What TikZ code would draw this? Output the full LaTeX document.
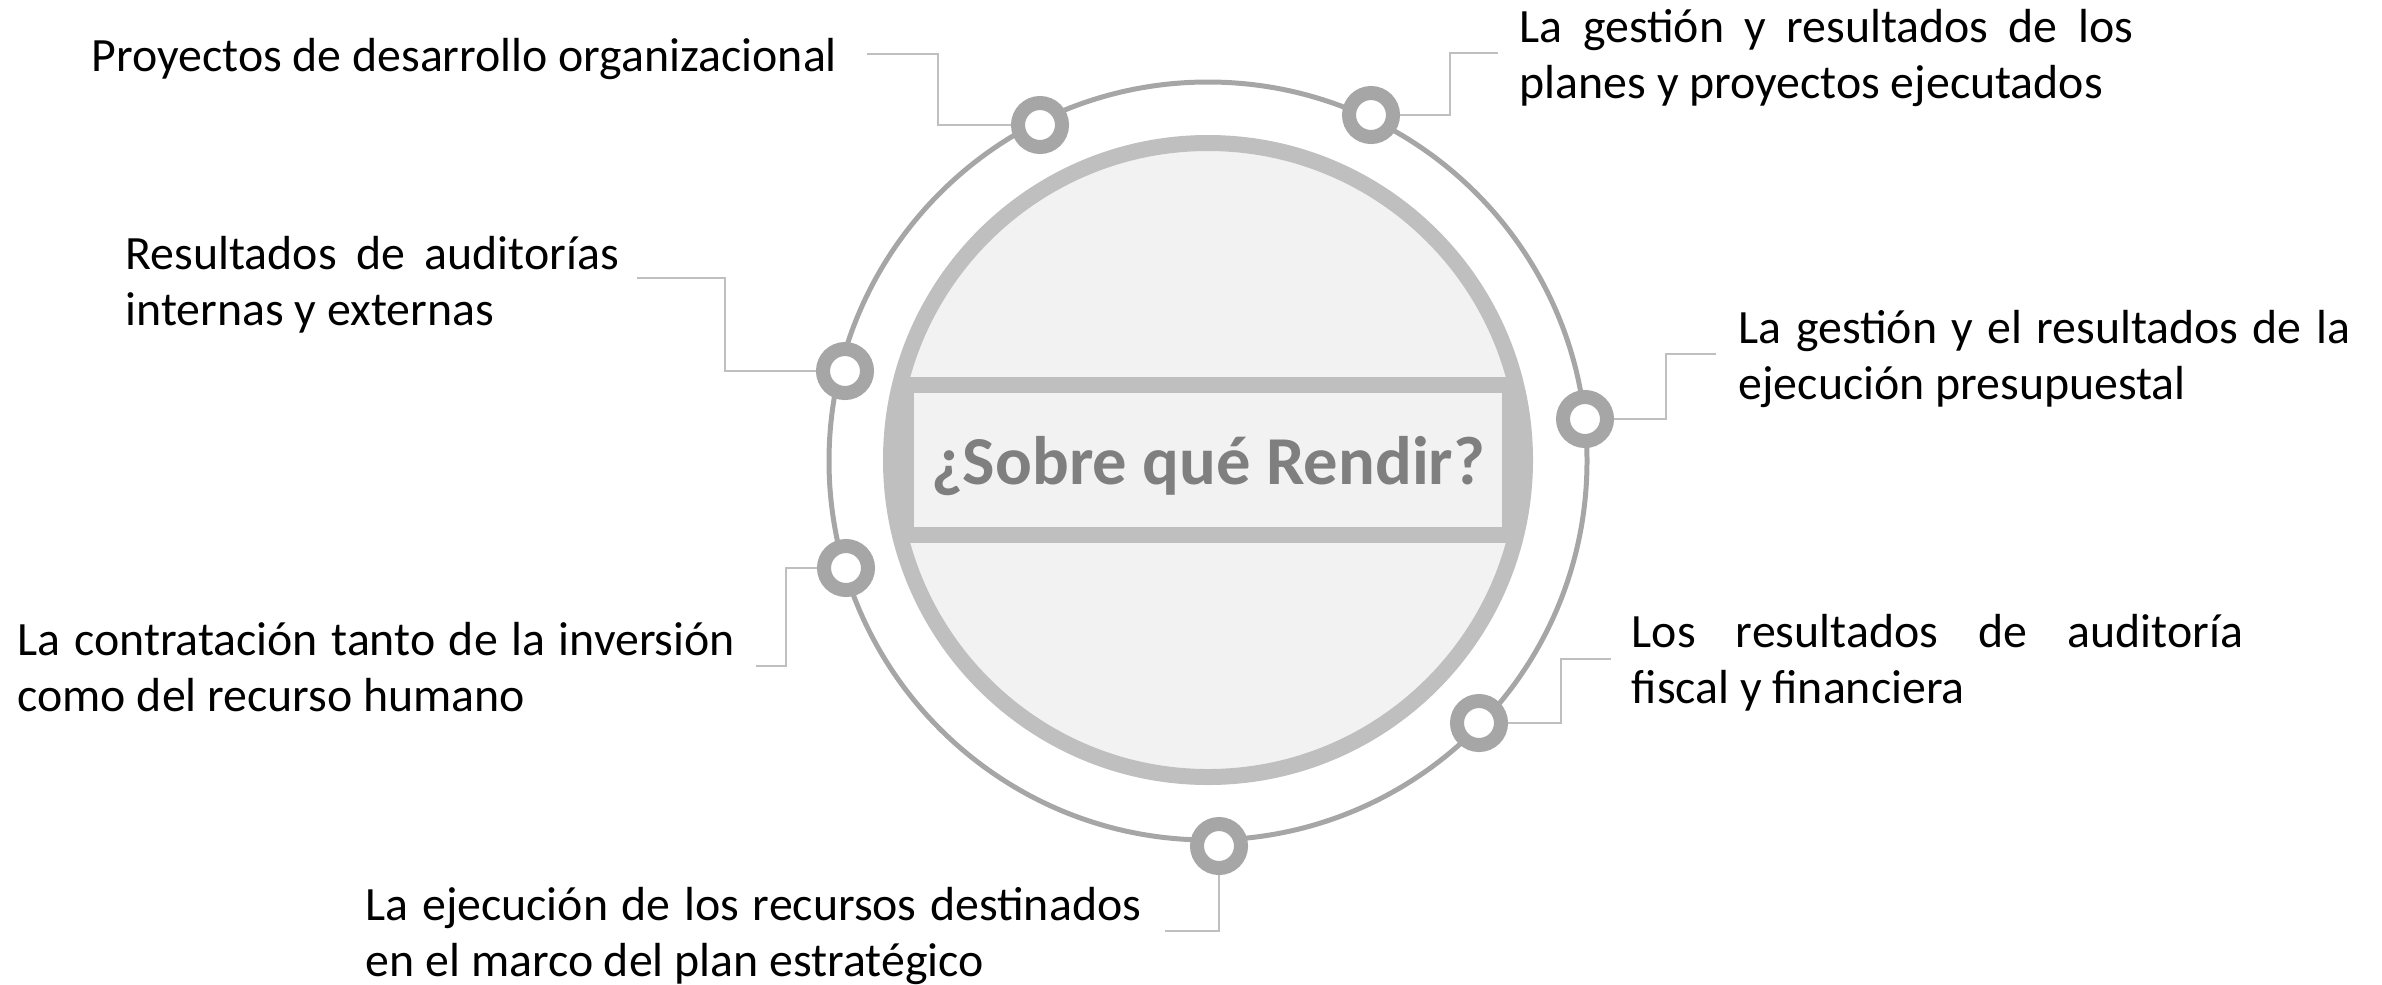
\documentclass[tikz,border=0pt]{standalone}
\usepackage{fontspec}
\setmainfont{Carlito}
\usepackage{tikz}

\definecolor{anillo}{HTML}{A6A6A6}
\definecolor{borde}{HTML}{BFBFBF}
\definecolor{relleno}{HTML}{F2F2F2}
\definecolor{grisletra}{HTML}{7F7F7F}
\newcommand{\justa}[2]{\makebox[#1][s]{#2}}

\begin{document}
\begin{tikzpicture}[x=0.01cm,y=-0.01cm,
    punto/.style={circle,draw=anillo,fill=white,line width=3.98pt,minimum size=0.44cm,inner sep=0pt},
    conec/.style={draw=borde,line width=0.6pt},
    texto/.style={anchor=north west,inner sep=0pt,align=left,font=\fontsize{13.6}{16}\selectfont}]
          \useasboundingbox (0,0) rectangle (2382,984);
          % circulos
          \draw[anillo,line width=1.42pt] (1208,461) circle [radius=379];
          \draw[borde,fill=relleno,line width=4.55pt] (1208,460) circle [radius=317];
          \node[draw=borde,fill=relleno,line width=4.55pt,minimum width=6.04cm,minimum height=1.5cm,inner sep=0pt] (banda) at (1208,460) {};
          \node[text=grisletra,font=\fontsize{19.5}{22}\selectfont\bfseries] (titulo) at (1208,466) {¿Sobre qué Rendir?};
          % puntos
          \node[punto] (p1) at (1040,125) {};
          \node[punto] (p2) at (1371,115) {};
          \node[punto] (p3) at (845,371) {};
          \node[punto] (p4) at (1585,419) {};
          \node[punto] (p5) at (846,568) {};
          \node[punto] (p6) at (1479,723) {};
          \node[punto] (p7) at (1219,846) {};
          % textos
          \node[texto] (t1) at (91,31) {\strut Proyectos de desarrollo organizacional};
          \node[texto] (t2) at (1519,2) {\strut\justa{6.13cm}{La gestión y resultados de los}\\planes y proyectos ejecutados};
          \node[texto] (t3) at (125,229) {\strut\justa{4.93cm}{Resultados de auditorías}\\internas y externas};
          \node[texto] (t4) at (1738,303) {\strut\justa{6.11cm}{La gestión y el resultados de la}\\ejecución presupuestal};
          \node[texto] (t5) at (17,615) {\strut\justa{7.17cm}{La contratación tanto de la inversión}\\como del recurso humano};
          \node[texto] (t6) at (1631,607) {\strut\justa{6.11cm}{Los resultados de auditoría}\\fiscal y financiera};
          \node[texto] (t7) at (365,880) {\strut\justa{7.75cm}{La ejecución de los recursos destinados}\\en el marco del plan estratégico};
          % conectores
          \coordinate (c1) at (867,54);
          \coordinate (c2) at (1498,53);
          \coordinate (c3) at (637,278);
          \coordinate (c4) at (1716,354);
          \coordinate (c5) at (756,666);
          \coordinate (c6) at (1611,659);
          \coordinate (c7) at (1165,931);
          \draw[conec] (p1.west) -- ++(-73,0) |- (c1);
          \draw[conec] (p2.east) -- ++(50,0) |- (c2);
          \draw[conec] (p3.west) -- ++(-91,0) |- (c3);
          \draw[conec] (p4.east) -- ++(52,0) |- (c4);
          \draw[conec] (p5.west) -- ++(-31,0) |- (c5);
          \draw[conec] (p6.east) -- ++(53,0) |- (c6);
          \draw[conec] (p7.south) |- (c7);
\end{tikzpicture}
\end{document}
